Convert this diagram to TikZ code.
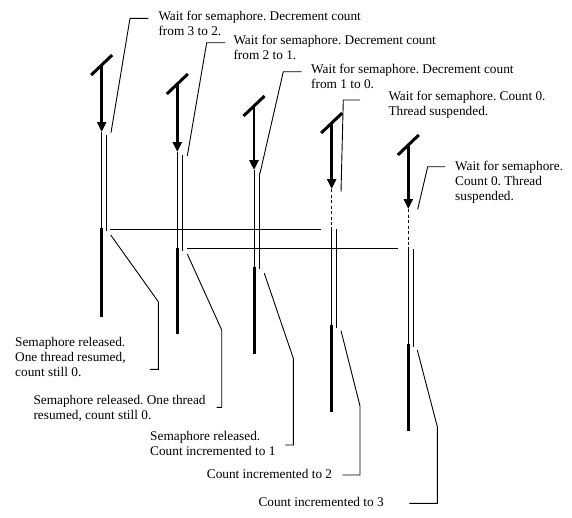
\documentclass[tikz,border=0pt]{standalone}
\usepackage{fontspec}
\setmainfont{Liberation Serif}
\usetikzlibrary{arrows.meta}
\frenchspacing

\tikzset{
    lbl/.style={font=\fontsize{13.3}{15}\selectfont, align=left, inner sep=0pt, anchor=north west},
    lead/.style={line width=0.9pt},
    wire/.style={line width=1pt},
    heavy/.style={line width=3pt},
    waitline/.style={line width=1pt, dash pattern=on 3pt off 2.5pt},
}

\begin{document}
\begin{tikzpicture}[x=1pt, y=-1pt]
    \fill[white] (0,0) rectangle (572,517);
    \useasboundingbox (0,0) rectangle (572,517);

    % Threads: number / x / wait call / arrow tip / owns semaphore / release / end
    \foreach \n/\x/\s/\a/\w/\r/\e in {1/101.7/65/132/132/228.3/316.7,
                                      2/177.3/84/152/152/248/334.3,
                                      3/254/106/170/170/266.7/354.3,
                                      4/331.7/123/189/226.7/325/411.7,
                                      5/408.3/145/209/246.7/344/431} {
        \coordinate (s\n) at (\x,\s);
        \coordinate (a\n) at (\x,\a);
        \coordinate (w\n) at (\x,\w);
        \coordinate (r\n) at (\x,\r);
        \coordinate (e\n) at (\x,\e);
        % wait call
        \draw[heavy] (\x-10.5,\s+10) -- (\x+10.5,\s-10);
        \draw[line width=2.5pt, -{Triangle[width=9pt,length=10pt]}] (s\n) -- (a\n);
        % holding the semaphore
        \draw[wire] (w\n) -- (r\n);
        \draw[wire] (\x+5,\w+2.5) -- (\x+5,\r+2.5);
        % running again
        \draw[heavy] (r\n) -- (e\n);
    }

    % Suspended threads
    \draw[waitline] (a4) -- (w4);
    \draw[waitline] (a5) -- (w5);

    % Releases handed over to the suspended threads
    \draw[wire] (110,229.3) -- (320.7,229.3);
    \draw[wire] (187.3,248.3) -- (397.7,248.3);

    % Top labels
    \node[lbl] (t1) at (158.3,10.5) {Wait for semaphore. Decrement count\\from 3 to 2.};
    \node[lbl] (t2) at (233.3,35) {Wait for semaphore. Decrement count\\from 2 to 1.};
    \node[lbl] (t3) at (311,63.8) {Wait for semaphore. Decrement count\\from 1 to 0.};
    \node[lbl] (t4) at (388.3,91) {Wait for semaphore. Count 0.\\Thread suspended.};
    \node[lbl] (t5) at (455,160.5) {Wait for semaphore.\\Count 0. Thread\\suspended.};

    \draw[lead] (148.3,18.3) -- (130,18.3) -- (111,132.7);
    \draw[lead] (225,42.7) -- (206.7,42.7) -- (187.3,156);
    \draw[lead] (301.7,71.7) -- (283.3,71.7) -- (260,173.3);
    \draw[lead] (360,100) -- (343.3,100) -- (341,191.7);
    \draw[lead] (445,166.7) -- (427.7,166.7) -- (417.7,209.3);

    % Bottom labels
    \node[lbl] (b1) at (15,337) {Semaphore released.\\One thread resumed,\\count still 0.};
    \node[lbl] (b2) at (33.3,395.5) {Semaphore released. One thread\\resumed, count still 0.};
    \node[lbl] (b3) at (150,431.5) {Semaphore released.\\Count incremented to 1};
    \node[lbl] (b4) at (206.7,468.8) {Count incremented to 2};
    \node[lbl] (b5) at (258.3,497) {Count incremented to 3};

    \draw[lead] (110.7,235) -- (158.3,301.7) -- (158.3,369.3) -- (150,369.3);
    \draw[lead] (187.3,254) -- (221.7,330) -- (221.7,407.3) -- (216.7,407.3);
    \draw[lead] (264.3,273.3) -- (293.3,358.3) -- (293.3,445) -- (285,445);
    \draw[lead] (341,330.7) -- (360,406) -- (360,475) -- (342.7,475);
    \draw[lead] (417.3,350) -- (437.3,426.7) -- (437.3,503.3) -- (409.3,503.3);
\end{tikzpicture}
\end{document}
